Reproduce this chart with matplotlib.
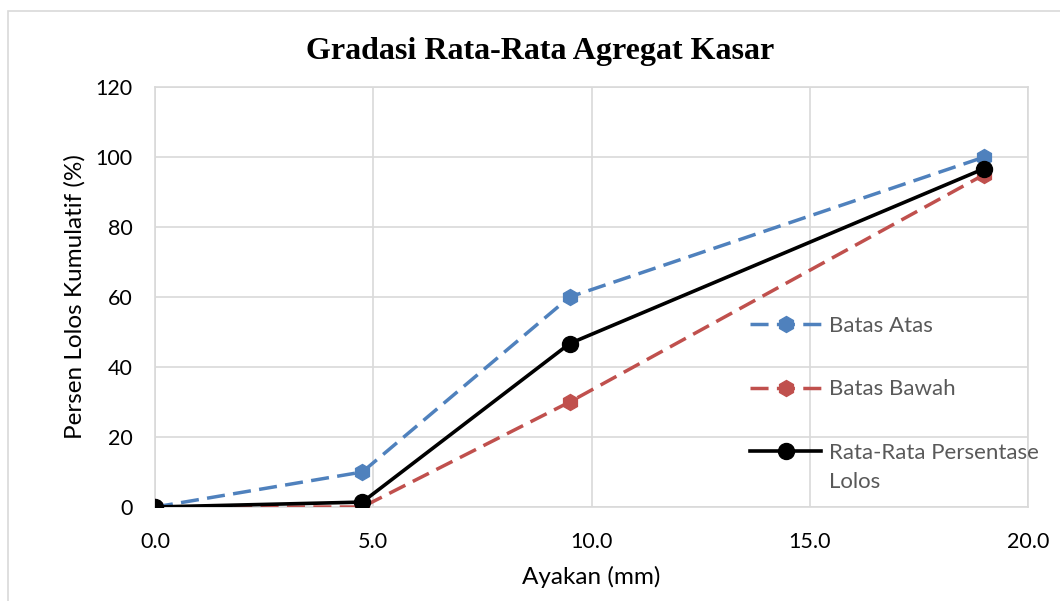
import matplotlib
matplotlib.use("Agg")
import matplotlib.pyplot as plt
from matplotlib.patches import Rectangle

# Sieve sizes (mm) and cumulative percent passing
ayakan = [0.0, 4.75, 9.5, 19.0]
batas_atas = [0, 10, 60, 100]
batas_bawah = [0, 0, 30, 95]
rata_rata = [0, 1.4, 46.7, 96.7]

x_ticks = [0.0, 5.0, 10.0, 15.0, 20.0]
y_ticks = [0, 20, 40, 60, 80, 100, 120]

BLUE = "#4F81BD"
RED = "#C0504D"
GRID = "#D9D9D9"
LEGEND_TEXT = "#595959"

plt.rcParams["font.family"] = ["Lato", "DejaVu Sans"]

fig = plt.figure(figsize=(10.6, 6.01), dpi=100)
fig.patches.append(Rectangle((8 / 1060, -0.05), 1.2, (601 - 11) / 601 + 0.05,
                             transform=fig.transFigure, fill=False,
                             edgecolor=GRID, linewidth=1.2))

ax = fig.add_axes([155 / 1060, (601 - 507) / 601, 873 / 1060, 420 / 601])

ax.plot(ayakan, batas_atas, color=BLUE, lw=2.5, dashes=(5.2, 2.4),
        marker="h", ms=11.5, label="Batas Atas", zorder=3)
ax.plot(ayakan, batas_bawah, color=RED, lw=2.5, dashes=(5.2, 2.4),
        marker="h", ms=11.5, label="Batas Bawah", zorder=3)
ax.plot(ayakan, rata_rata, color="black", lw=2.6, marker="o", ms=11.5,
        label="Rata-Rata Persentase", zorder=4)

ax.set_xlim(0, 20)
ax.set_ylim(0, 120)
ax.set_xticks(x_ticks)
ax.set_xticklabels([f"{v:.1f}" for v in x_ticks])
ax.set_yticks(y_ticks)
ax.tick_params(length=0, labelsize=15.5)
ax.tick_params(axis="y", pad=16)
ax.tick_params(axis="x", pad=18)
ax.grid(True, color=GRID, lw=1.2)
ax.set_axisbelow(True)
for s in ax.spines.values():
    s.set_color(GRID)
    s.set_linewidth(1.2)

ax.set_xlabel("Ayakan (mm)", fontsize=17.5, labelpad=10)
ax.set_ylabel("Persen Lolos Kumulatif (%)", fontsize=17.5, labelpad=7)

fig.text(540 / 1060, 1 - 52 / 601, "Gradasi Rata-Rata Agregat Kasar",
         family="Liberation Serif", fontweight="bold", fontsize=23,
         ha="center", va="center")

leg = ax.legend(loc="upper left", bbox_to_anchor=(750 / 1060, 1 - 316 / 601),
                bbox_transform=fig.transFigure, frameon=False, fontsize=16,
                handlelength=3.2, handletextpad=0.35, labelspacing=1.95,
                labelcolor=LEGEND_TEXT, borderaxespad=0, borderpad=0)

# second line of the last legend label, wrapped under the first
fig.canvas.draw()
bb = leg.get_texts()[2].get_window_extent()
fig.text(bb.x0 / 1060, (bb.y0 - 29) / 601, "Lolos", fontsize=16,
         color=LEGEND_TEXT, ha="left", va="bottom")

fig.savefig("out.png", dpi=100)
